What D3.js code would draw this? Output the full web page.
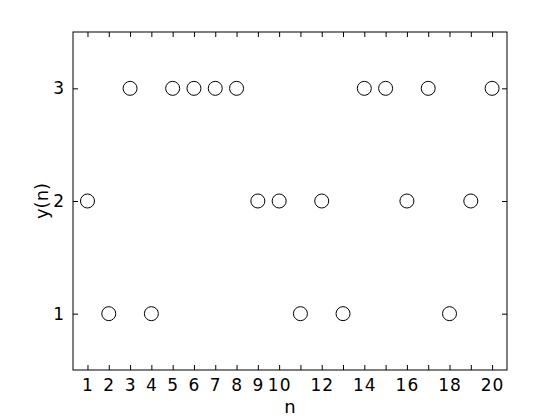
<!DOCTYPE html>
<html>
<head>
<meta charset="utf-8">
<script src="https://cdn.jsdelivr.net/npm/d3@7"></script>
<style>
body { margin: 0; background: #fff; }
text { font-family: "DejaVu Sans", Arial, sans-serif; }
</style>
</head>
<body>
<div id="chart-area"></div>
<script>
const nValues = [1,2,3,4,5,6,7,8,9,10,11,12,13,14,15,16,17,18,19,20]
const yValues = [2,1,3,1,3,3,3,3,2,2,1,2,1,3,3,2,3,1,2,3]
const xTickLabels = [1,2,3,4,5,6,7,8,9,10,12,14,16,18,20]
const yTicks = [1,2,3]

const MARGIN = {LEFT:73, RIGHT:53, TOP:32, BOTTOM:50}
const WIDTH = 560 - MARGIN.LEFT - MARGIN.RIGHT
const HEIGHT = 420 - MARGIN.TOP - MARGIN.BOTTOM

const svg = d3.select('#chart-area')
.append('svg')
.attr('width',560)
.attr('height',420)

const g = svg.append('g')
.attr('transform',`translate(${MARGIN.LEFT},${MARGIN.TOP})`)

const x = d3.scaleLinear()
.domain([0.32,20.7])
.range([0,WIDTH])

const y = d3.scaleLinear()
.domain([0.5,3.5])
.range([HEIGHT,0])

const TICK = 5

// bottom axis: ticks on every n, labels only where listed
const xAxisCall = d3.axisBottom(x)
.tickValues(nValues)
.tickSizeInner(-TICK)
.tickSizeOuter(0)
.tickPadding(9)
.tickFormat(d => xTickLabels.includes(d) ? d : '')
g.append('g')
.attr('transform',`translate(0,${HEIGHT})`)
.call(xAxisCall)

g.append('g')
.call(d3.axisTop(x).tickValues(nValues).tickSizeInner(-TICK).tickSizeOuter(0).tickFormat(''))

const yAxisCall = d3.axisLeft(y)
.tickValues(yTicks)
.tickSizeInner(-TICK)
.tickSizeOuter(0)
.tickPadding(8)
.tickFormat(d3.format('d'))
g.append('g').call(yAxisCall)

g.append('g')
.attr('transform',`translate(${WIDTH},0)`)
.call(d3.axisRight(y).tickValues(yTicks).tickSizeInner(-TICK).tickSizeOuter(0).tickFormat(''))

g.selectAll('.domain').remove()
g.selectAll('.tick line').attr('stroke','#000')
g.selectAll('.tick text')
.style('font-size','17px')
.style('letter-spacing','1px')
.attr('fill','#000')

g.append('rect')
.attr('x',0)
.attr('y',0)
.attr('width',WIDTH)
.attr('height',HEIGHT)
.attr('fill','none')
.attr('stroke','#000')
.attr('stroke-width',1)

g.selectAll('circle')
.data(nValues)
.enter().append('circle')
.attr('cx',d => x(d))
.attr('cy',(d,i) => y(yValues[i]))
.attr('r',7)
.attr('fill','none')
.attr('stroke','#000')
.attr('stroke-width',1)

g.append('text')
.attr('x',WIDTH/2)
.attr('y',HEIGHT+43)
.attr('text-anchor','middle')
.style('font-size','18px')
.text('n')

g.append('text')
.attr('x',-(HEIGHT/2))
.attr('y',-25)
.attr('text-anchor','middle')
.attr('transform','rotate(-90)')
.style('font-size','18px')
.text('y(n)')
</script>
</body>
</html>
